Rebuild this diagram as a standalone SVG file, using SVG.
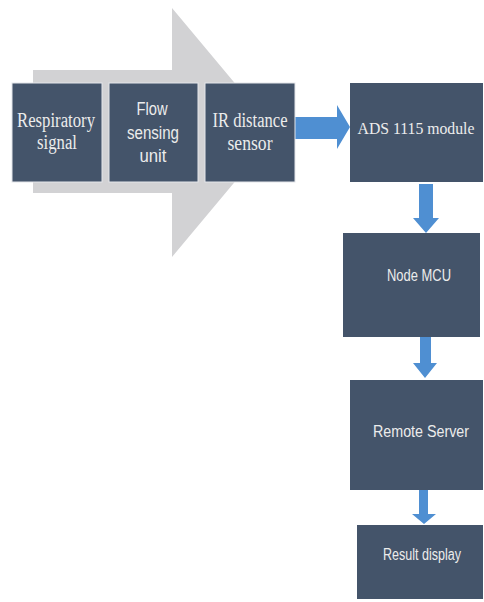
<svg xmlns="http://www.w3.org/2000/svg" width="484" height="602" viewBox="0 0 484 602">
<style>
.box{fill:#44546a}
.lbox{fill:#44546a;stroke:#e4e6ea;stroke-width:1}
.serif{font-family:"Liberation Serif","Times New Roman",serif;fill:#ececec;font-size:20px;text-anchor:middle}
.serif.small{font-size:17px}
.sans{font-family:"Liberation Sans","Open Sans",sans-serif;fill:#ececec;text-anchor:middle}
.blue{fill:#4f8fd2}
</style>
<rect width="484" height="602" fill="#ffffff"/>
<g id="process-arrow">
<polygon points="33,70 172,70 172,8 276,132.5 172,257 172,193 33,193" fill="#d2d2d4"/>
</g>
<g id="connectors">
<polygon class="blue" points="293,117 337,117 337,105 350,127 337,149 337,139 293,139"/>
<polygon class="blue" points="419,184 433,184 433,218 439,218 426,233 413,218 419,218"/>
<polygon class="blue" points="420,337 431,337 431,363 437,363 425,378 413,363 420,363"/>
<polygon class="blue" points="419,490 428,490 428,514 436,514 424,524 412,514 419,514"/>
</g>
<g id="respiratory-signal">
<rect class="lbox" x="12" y="83" width="90" height="99"/>
<text class="serif" x="56" y="127" textLength="78" lengthAdjust="spacingAndGlyphs">Respiratory</text>
<text class="serif" x="57" y="149" textLength="40" lengthAdjust="spacingAndGlyphs">signal</text>
</g>
<g id="flow-sensing-unit">
<rect class="lbox" x="109" y="83" width="89" height="99"/>
<text class="sans" x="152" y="115" font-size="18" textLength="31" lengthAdjust="spacingAndGlyphs">Flow</text>
<text class="sans" x="153" y="139" font-size="18" textLength="52" lengthAdjust="spacingAndGlyphs">sensing</text>
<text class="sans" x="153" y="162" font-size="18" textLength="27" lengthAdjust="spacingAndGlyphs">unit</text>
</g>
<g id="ir-distance-sensor">
<rect class="lbox" x="205" y="83" width="90" height="99"/>
<text class="serif" x="250" y="127" textLength="75" lengthAdjust="spacingAndGlyphs">IR distance</text>
<text class="serif" x="250" y="150" textLength="45" lengthAdjust="spacingAndGlyphs">sensor</text>
</g>
<g id="ads-1115-module">
<rect class="box" x="350" y="83" width="133" height="99"/>
<text class="serif small" x="416" y="134" textLength="117" lengthAdjust="spacingAndGlyphs">ADS 1115 module</text>
</g>
<g id="node-mcu">
<rect class="box" x="343" y="233" width="137" height="104"/>
<text class="sans" x="419" y="281" font-size="16" textLength="64" lengthAdjust="spacingAndGlyphs">Node MCU</text>
</g>
<g id="remote-server">
<rect class="box" x="350" y="380" width="133" height="110"/>
<text class="sans" x="421" y="437" font-size="16" textLength="96" lengthAdjust="spacingAndGlyphs">Remote Server</text>
</g>
<g id="result-display">
<rect class="box" x="357" y="525" width="126" height="74"/>
<text class="sans" x="422" y="560" font-size="16" textLength="78" lengthAdjust="spacingAndGlyphs">Result display</text>
</g>
</svg>
